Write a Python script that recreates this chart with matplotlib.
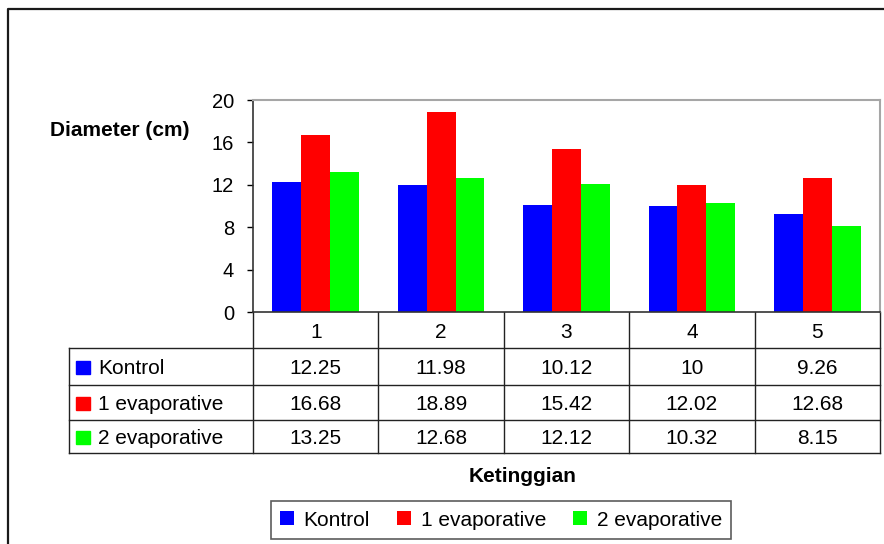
import numpy as np
import matplotlib
matplotlib.use("Agg")
import matplotlib.pyplot as plt

plt.rcParams["font.family"] = ["Liberation Sans", "DejaVu Sans"]

# data
categories = ["1", "2", "3", "4", "5"]
series_names = ["Kontrol", "1 evaporative", "2 evaporative"]
kontrol = [12.25, 11.98, 10.12, 10, 9.26]
evap1 = [16.68, 18.89, 15.42, 12.02, 12.68]
evap2 = [13.25, 12.68, 12.12, 10.32, 8.15]
yticks = [0, 4, 8, 12, 16, 20]

series = [kontrol, evap1, evap2]
labels_txt = [["12.25", "11.98", "10.12", "10", "9.26"],
              ["16.68", "18.89", "15.42", "12.02", "12.68"],
              ["13.25", "12.68", "12.12", "10.32", "8.15"]]
colors = ["#0000ff", "#ff0000", "#00ff00"]

W, H = 884, 544
fig = plt.figure(figsize=(W / 100, H / 100), dpi=100)

# background overlay in pixel coords for frame + table
bg = fig.add_axes([0, 0, 1, 1])
bg.set_xlim(0, W)
bg.set_ylim(H, 0)
bg.axis("off")
bg.patch.set_visible(False)

# outer frame (left + top)
bg.plot([8, 8, W], [H, 9, 9], color="#1a1a1a", lw=1.6)

# plot area
x0, x1, ytop, ybot = 253, 880, 100, 312
ax = fig.add_axes([x0 / W, 1 - ybot / H, (x1 - x0) / W, (ybot - ytop) / H])
x = np.arange(len(categories))
bw = 0.23
bars = []
for i, (vals, c) in enumerate(zip(series, colors)):
    b = ax.bar(x + (i - 1) * bw, vals, bw, color=c, label=series_names[i], zorder=2)
    bars.append(b)
ax.set_xlim(-0.5, len(categories) - 0.5)
ax.set_ylim(0, 20)
ax.set_yticks(yticks)
ax.set_xticks([])
ax.tick_params(axis="y", direction="out", length=4.5, width=1, labelsize=14.5, pad=9)
for s in ["left", "bottom"]:
    ax.spines[s].set_color("#333333")
    ax.spines[s].set_linewidth(1.2)
for s in ["top", "right"]:
    ax.spines[s].set_color("#a6a6a6")
    ax.spines[s].set_linewidth(1.5)

fig.text(50 / W, 1 - 131 / H, "Diameter (cm)", fontsize=15, fontweight="bold",
         ha="left", va="center")

# data table
col_w = (x1 - x0) / len(categories)
row_y = [312, 348, 385, 420, 453]
lc = "#222222"
for k in range(len(categories) + 1):
    xx = x0 + k * col_w
    bg.plot([xx, xx], [row_y[0], row_y[-1]], color=lc, lw=1)
bg.plot([69, 69], [row_y[1], row_y[-1]], color=lc, lw=1)
for yy in row_y[1:]:
    bg.plot([69, x1], [yy, yy], color=lc, lw=1)

for k, cat in enumerate(categories):
    bg.text(x0 + (k + 0.5) * col_w, (row_y[0] + row_y[1]) / 2 + 2, cat,
            ha="center", va="center", fontsize=15)
for r in range(len(series)):
    yc = (row_y[r + 1] + row_y[r + 2]) / 2 + 2
    bg.add_patch(plt.Rectangle((76, yc - 8), 14, 13, color=colors[r]))
    bg.text(98, yc, series_names[r], ha="left", va="center", fontsize=15)
    for k in range(len(categories)):
        bg.text(x0 + (k + 0.5) * col_w, yc, labels_txt[r][k],
                ha="center", va="center", fontsize=15)

fig.text(523 / W, 1 - 477 / H, "Ketinggian", fontsize=15, fontweight="bold",
         ha="center", va="center")

leg = fig.legend(handles=bars, labels=series_names, loc="center",
                 bbox_to_anchor=(501 / W, 1 - 520 / H), ncol=3, fontsize=15,
                 frameon=True, fancybox=False, edgecolor="#333333",
                 handlelength=0.68, handleheight=0.68, handletextpad=0.45,
                 columnspacing=1.3, borderpad=0.45, borderaxespad=0)
leg.get_frame().set_linewidth(1.2)

fig.savefig("out.png", dpi=100)
